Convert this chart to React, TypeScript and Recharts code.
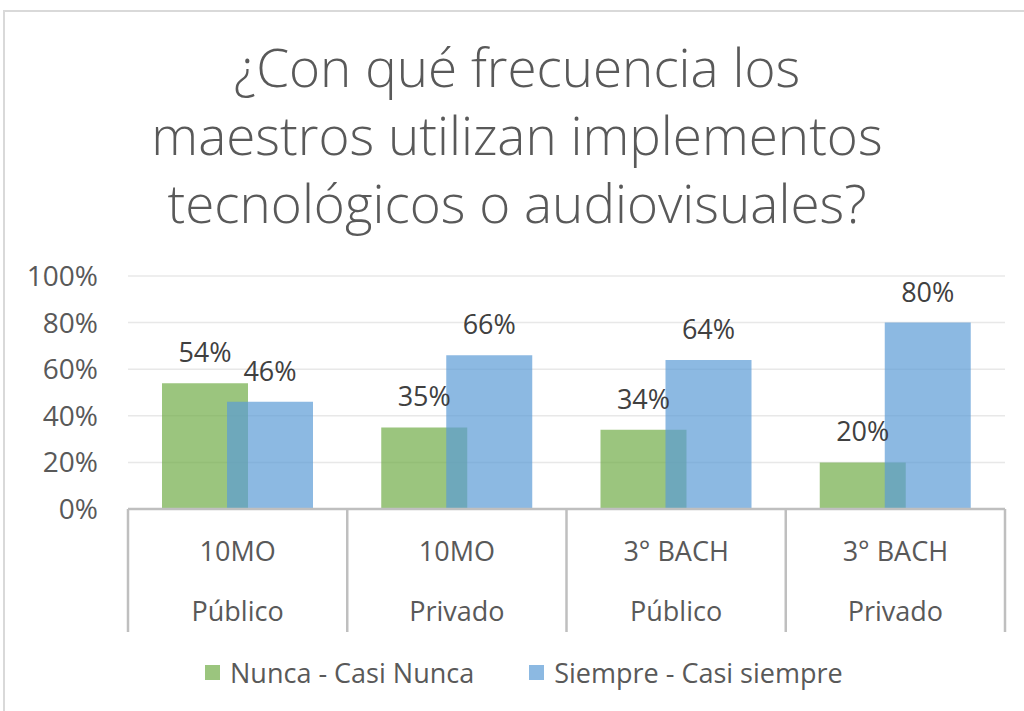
import React from "react";
import { BarChart, Bar, XAxis, YAxis, CartesianGrid, LabelList, Legend } from "recharts";

// categorías (dos niveles)
const grados = ["10MO", "10MO", "3° BACH", "3° BACH"];
const sectores = ["Público", "Privado", "Público", "Privado"];

// valores en %
const nunca = [54, 35, 34, 20];
const siempre = [46, 66, 64, 80];

const yTicks = [0, 20, 40, 60, 80, 100];

const tituloLineas = [
  "¿Con qué frecuencia los",
  "maestros utilizan implementos",
  "tecnológicos o audiovisuales?",
];

const series = [
  { key: "nunca", name: "Nunca - Casi Nunca", color: "#70AD47" },
  { key: "siempre", name: "Siempre - Casi siempre", color: "#5B9BD5" },
];

const data = grados.map((g, i) => ({
  id: i,
  grado: g,
  sector: sectores[i],
  nunca: nunca[i],
  siempre: siempre[i],
}));

const FONT = "'Open Sans', 'DejaVu Sans', sans-serif";
const W = 1024;
const H = 711;
const LEFT = 128;
const RIGHT = 19;
const TOP = 276;
const X_AXIS_H = 130;
const BOTTOM = H - 509 - X_AXIS_H;
const BAND = (W - LEFT - RIGHT) / grados.length;

const CategoryTick = (props: any) => {
  const { x, y, payload } = props;
  const i = Number(payload.value);
  const last = i === grados.length - 1;
  return (
    <g>
      <line x1={x - BAND / 2} x2={x - BAND / 2} y1={y} y2={y + 123} stroke="#BFBFBF" strokeWidth={2.5} />
      {last && (
        <line x1={x + BAND / 2} x2={x + BAND / 2} y1={y} y2={y + 123} stroke="#BFBFBF" strokeWidth={2.5} />
      )}
      <text x={x} y={y + 52} textAnchor="middle" fill="#595959" fontSize={27} fontFamily={FONT}>
        {grados[i]}
      </text>
      <text x={x} y={y + 112} textAnchor="middle" fill="#595959" fontSize={27} fontFamily={FONT}>
        {sectores[i]}
      </text>
    </g>
  );
};

const LegendContent = () => (
  <div
    style={{
      display: "flex",
      alignItems: "center",
      paddingLeft: 205,
      gap: 55,
      fontFamily: FONT,
      fontSize: 27,
      color: "#595959",
    }}
  >
    {series.map((s) => (
      <div key={s.key} style={{ display: "flex", alignItems: "center" }}>
        <span
          style={{ width: 15, height: 15, background: s.color, opacity: 0.7, marginRight: 10, display: "inline-block" }}
        />
        <span>{s.name}</span>
      </div>
    ))}
  </div>
);

export default function App() {
  return (
    <div
      style={{
        position: "absolute",
        top: 0,
        left: 0,
        width: W,
        height: H,
        overflow: "hidden",
        background: "#fff",
      }}
    >
      {/* marco del gráfico */}
      <div
        style={{
          position: "absolute",
          left: 3,
          top: 10,
          width: 1040,
          height: 720,
          border: "2px solid #D9D9D9",
        }}
      />

      {/* título */}
      <div
        style={{
          position: "absolute",
          top: 33,
          left: 0,
          width: 1034,
          textAlign: "center",
          fontFamily: FONT,
          fontWeight: 300,
          fontSize: 53,
          lineHeight: "68px",
          color: "#595959",
        }}
      >
        {tituloLineas.map((l) => (
          <div key={l}>{l}</div>
        ))}
      </div>

      <div style={{ position: "absolute", top: 0, left: 0 }}>
        <BarChart
          width={W}
          height={H}
          data={data}
          margin={{ top: TOP, right: RIGHT, bottom: BOTTOM, left: 0 }}
          barSize={86}
          barGap={-21}
        >
          <CartesianGrid vertical={false} stroke="#E8E8E8" strokeWidth={1.5} />
          <XAxis
            dataKey="id"
            type="category"
            height={X_AXIS_H}
            tickLine={false}
            tickSize={0}
            tickMargin={0}
            axisLine={{ stroke: "#BFBFBF", strokeWidth: 2.5 }}
            tick={<CategoryTick />}
            interval={0}
          />
          <YAxis
            width={LEFT}
            domain={[0, 100]}
            ticks={yTicks}
            axisLine={false}
            tickLine={false}
            tickSize={0}
            tickMargin={30}
            tickFormatter={(v: number) => `${v}%`}
            tick={{ fill: "#595959", fontSize: 28, fontFamily: FONT }}
          />
          <Legend
            verticalAlign="middle"
            align="center"
            layout="horizontal"
            content={<LegendContent />}
            wrapperStyle={{ top: 654, left: 0, width: W }}
          />
          {series.map((s) => (
            <Bar
              key={s.key}
              dataKey={s.key}
              name={s.name}
              fill={s.color}
              fillOpacity={0.7}
              isAnimationActive={false}
            >
              <LabelList
                dataKey={s.key}
                position="top"
                offset={21}
                formatter={(v: any) => `${v}%`}
                fill="#404040"
                fontSize={27}
                fontFamily={FONT}
              />
            </Bar>
          ))}
        </BarChart>
      </div>
    </div>
  );
}
